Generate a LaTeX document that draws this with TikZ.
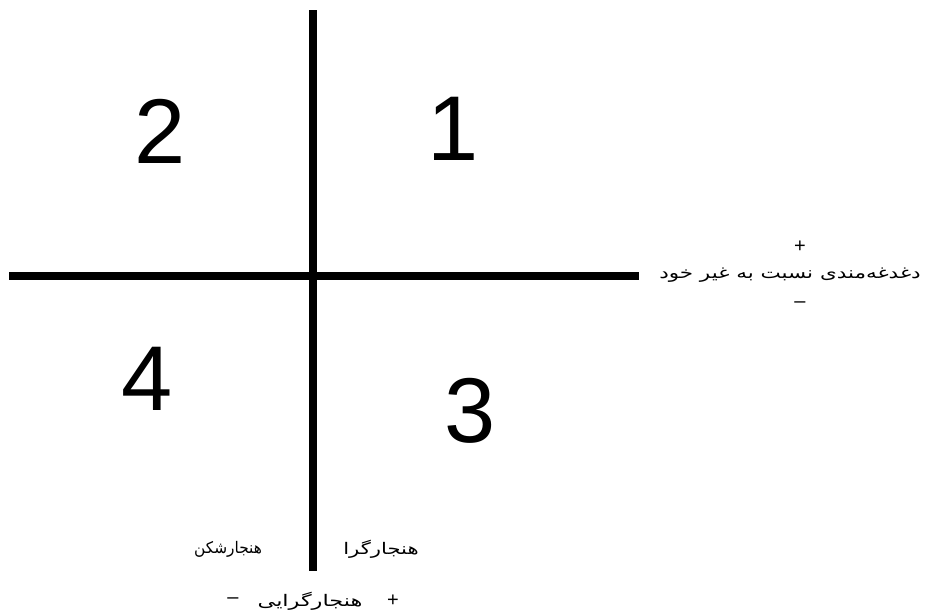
\documentclass[tikz,border=0pt]{standalone}
\usepackage{fontspec}
\usepackage{graphicx}
\setmainfont{Liberation Sans}
\newfontfamily\arabicfont[Script=Arabic]{DejaVu Sans}
\TeXXeTstate=1
\usetikzlibrary{positioning}
\newcommand{\farsiwide}[2]{\scalebox{#1}[1]{#2}}

\begin{document}
\begin{tikzpicture}[
    x=1pt,y=-1pt,
    axis/.style={line width=8pt,draw=black},
    quadnum/.style={font=\fontsize{92}{92}\selectfont,inner sep=0pt},
    farsi/.style={font=\arabicfont\fontsize{16}{18}\selectfont,inner sep=0pt},
    signlbl/.style={font=\fontsize{20}{20}\selectfont,inner sep=0pt}
  ]
  \useasboundingbox (0,0) rectangle (925,614);

  % axes
  \coordinate (vtop) at (313,10);
  \coordinate (vbot) at (313,571);
  \coordinate (hleft) at (9,276);
  \coordinate (hright) at (639,276);
  \draw[axis] (vtop) -- (vbot);
  \draw[axis] (hleft) -- (hright);

  % quadrant numbers
  \node[quadnum] (qone) at (453,129) {1};
  \node[quadnum] (qtwo) at (160,131) {2};
  \node[quadnum] (qthree) at (470,411) {3};
  \node[quadnum] (qfour) at (147,379) {4};

  % horizontal axis label
  \node[farsi] (care) at (790,275) {\farsiwide{1.34}{\beginR دغدغه‌مندی نسبت به غیر خود\endR}};
  \node[signlbl] (careplus) at (800,247) {+};
  \node[signlbl] (careminus) at (800,305) {–};

  % vertical axis labels
  \node[farsi] (breaker) at (228,549) {\farsiwide{0.96}{\beginR هنجارشکن\endR}};
  \node[farsi] (follower) at (381,549) {\farsiwide{1.32}{\beginR هنجارگرا\endR}};
  \node[farsi] (norm) at (310,601) {\farsiwide{1.4}{\beginR هنجارگرایی\endR}};
  \node[signlbl] (normplus) at (393,601) {+};
  \node[signlbl] (normminus) at (233,601) {–};
\end{tikzpicture}
\end{document}
